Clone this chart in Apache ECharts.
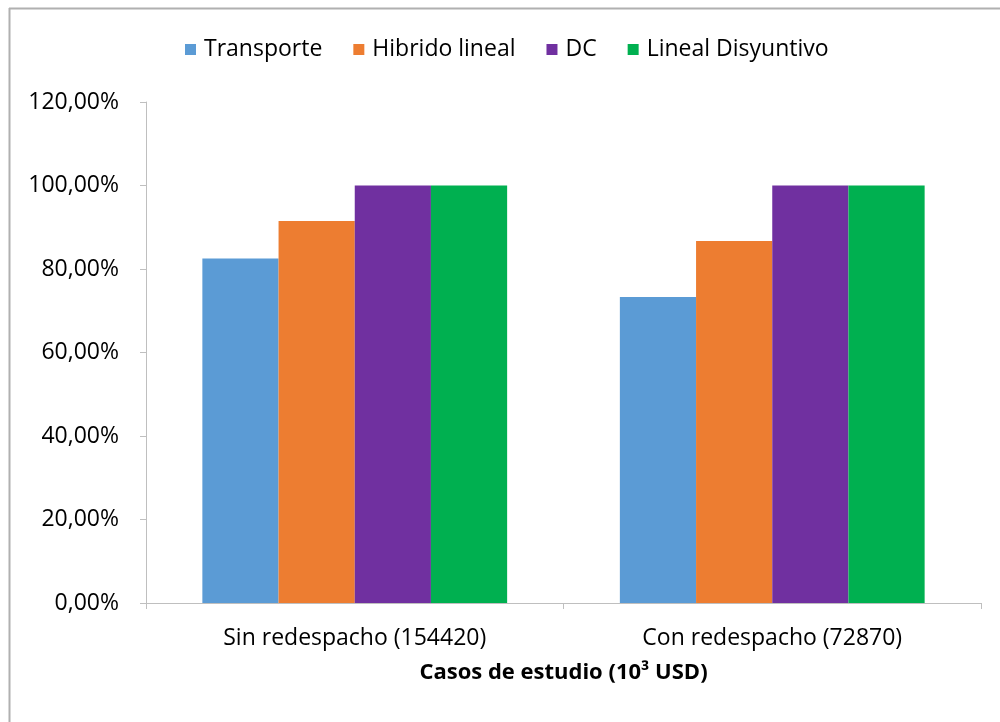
<!DOCTYPE html>
<html><head><meta charset="utf-8">
<script src="https://cdn.jsdelivr.net/npm/echarts@6/dist/echarts.min.js"></script>
<style>html,body{margin:0;padding:0;background:#fff}#c{width:1000px;height:722px}</style>
</head><body><div id="c"></div>
<script>
const categories = ['Sin redespacho (154420)', 'Con redespacho (72870)'];
const seriesNames = ['Transporte', 'Hibrido lineal', 'DC', 'Lineal Disyuntivo'];
const transporte = [82.5, 73.3];
const hibrido = [91.5, 86.7];
const dc = [100, 100];
const linealDisyuntivo = [100, 100];
const yTicks = [0, 20, 40, 60, 80, 100, 120];
const colors = ['#5B9BD5', '#ED7D31', '#7030A0', '#00B050'];
const FONT = 'Open Sans';
const chart = echarts.init(document.getElementById('c'));
const values = [transporte, hibrido, dc, linealDisyuntivo];
chart.setOption({
  animation: false,
  textStyle: {fontFamily: FONT},
  graphic: [
    {type: 'line', shape: {x1: 9.5, y1: 8, x2: 9.5, y2: 722}, style: {stroke: '#b0b0b0', lineWidth: 2}},
    {type: 'line', shape: {x1: 9, y1: 8.5, x2: 1000, y2: 8.5}, style: {stroke: '#b0b0b0', lineWidth: 2}}
  ],
  legend: {
    top: 33, left: 180, itemWidth: 11, itemHeight: 11, itemGap: 31,
    icon: 'rect',
    textStyle: {fontFamily: FONT, fontSize: 23, color: '#000', padding: [0, 0, 0, 3]},
    data: seriesNames
  },
  grid: {left: 146, right: 19, top: 102, bottom: 119},
  xAxis: {
    type: 'category', data: categories,
    axisLine: {lineStyle: {color: '#bfbfbf'}},
    axisTick: {show: true, length: 6, lineStyle: {color: '#bfbfbf'}},
    axisLabel: {fontFamily: FONT, fontSize: 23, color: '#000', margin: 24},
    name: 'Casos de estudio (10³ USD)', nameLocation: 'middle', nameGap: 59,
    nameMoveOverlap: false,
    nameTextStyle: {fontFamily: FONT, fontSize: 22, fontWeight: 'bold', color: '#000'}
  },
  yAxis: {
    type: 'value', min: yTicks[0], max: yTicks[yTicks.length - 1], interval: 20,
    splitLine: {show: false},
    axisLine: {show: true, lineStyle: {color: '#bfbfbf'}},
    axisTick: {show: true, length: 6, lineStyle: {color: '#bfbfbf'}},
    axisLabel: {fontFamily: FONT, fontSize: 23, color: '#000', margin: 27,
      formatter: v => v.toFixed(2).replace('.', ',') + '%'}
  },
  series: seriesNames.map((n, i) => ({
    name: n, type: 'bar', data: values[i], barGap: '0%', barCategoryGap: '27%',
    itemStyle: {color: colors[i]}
  }))
});
</script></body></html>
